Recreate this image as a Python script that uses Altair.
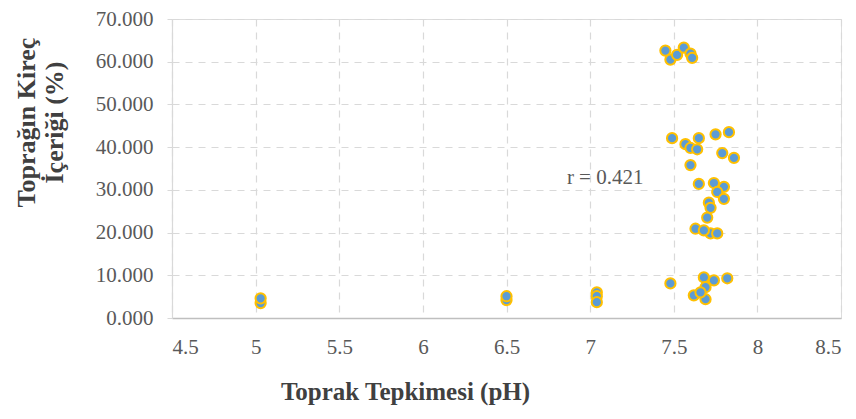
import altair as alt
import pandas as pd

ph = [7.45, 7.48, 7.52, 7.56, 7.60, 7.61,
      7.49, 7.57, 7.65, 7.60, 7.64, 7.75, 7.83, 7.79, 7.86, 7.60,
      7.65, 7.74, 7.80, 7.76, 7.80, 7.71, 7.72, 7.70, 7.63, 7.72, 7.76, 7.68,
      7.48, 7.68, 7.74, 7.82, 7.69, 7.62, 7.69, 7.66,
      7.04, 7.04, 7.04, 6.50, 6.50, 5.03, 5.03]
lime = [62.6, 60.5, 61.6, 63.3, 61.9, 60.9,
        42.1, 40.7, 42.1, 39.8, 39.5, 43.0, 43.5, 38.6, 37.5, 35.8,
        31.4, 31.6, 30.7, 29.5, 27.9, 27.0, 25.8, 23.5, 20.9, 19.8, 19.8, 20.5,
        8.1, 9.5, 8.8, 9.3, 7.2, 5.3, 4.4, 6.0,
        6.0, 5.1, 3.7, 4.2, 5.1, 3.5, 4.6]

x_ticks = [4.5, 5, 5.5, 6, 6.5, 7, 7.5, 8, 8.5]
y_ticks = [0, 10, 20, 30, 40, 50, 60, 70]

note_text = ["r = 0.421"]
note_x = [7.09]
note_y = [32.8]

df = pd.DataFrame({"ph": ph, "lime": lime})
notes = pd.DataFrame({"t": note_text, "x": note_x, "y": note_y})

FONT = "Liberation Serif"

xscale = alt.Scale(domain=[4.5, 8.5], nice=False, zero=False)
yscale = alt.Scale(domain=[0, 70], nice=False)

points = alt.Chart(df).mark_point(
    filled=True, shape="circle", size=105, fill="#5B9BD5",
    stroke="#FFC000", strokeWidth=2, opacity=1
).encode(
    x=alt.X("ph:Q", scale=xscale, axis=alt.Axis(
        values=x_ticks, format="~g", title="Toprak Tepkimesi (pH)",
        titleX=233, titleY=73, titleBaseline="middle", titleAnchor="middle",
        titleFont=FONT, titleFontSize=25, titleFontWeight="bold", titleColor="#404040",
        labelFont=FONT, labelFontSize=21, labelColor="#595959",
        labelBaseline="middle", labelPadding=29,
        grid=True, gridColor="#D9D9D9", gridDash=[7, 6], gridWidth=1.2,
        domain=True, domainColor="#BFBFBF", domainWidth=1.5,
        ticks=False)),
    y=alt.Y("lime:Q", scale=yscale, axis=alt.Axis(
        values=y_ticks, format=".3f",
        title=["Toprağın Kireç", "İçeriği (%)"],
        titleX=-146, titleY=103, titleBaseline="middle", titleAnchor="middle", titleAngle=-90,
        titleFont=FONT, titleFontSize=26, titleFontWeight="bold", titleColor="#404040",
        titleLineHeight=28,
        labelFont=FONT, labelFontSize=21, labelColor="#595959", labelPadding=14,
        grid=True, gridColor="#D9D9D9", gridDash=[7, 6], gridWidth=1.2,
        domain=True, domainColor="#D9D9D9", domainWidth=1.2,
        ticks=True, tickSize=5, tickColor="#D9D9D9")),
)

note = alt.Chart(notes).mark_text(
    font=FONT, fontSize=21, color="#595959", align="center", baseline="middle"
).encode(
    x=alt.X("x:Q", scale=xscale),
    y=alt.Y("y:Q", scale=yscale),
    text="t:N",
)

chart = alt.layer(points, note).properties(
    width=669, height=299,
    autosize=alt.AutoSizeParams(type="none"),
    padding={"left": 164, "top": 11, "right": 7, "bottom": 90},
).configure_view(stroke=None).configure(background="white")

chart.save("out.html", embed_options={"renderer": "svg", "actions": False})
